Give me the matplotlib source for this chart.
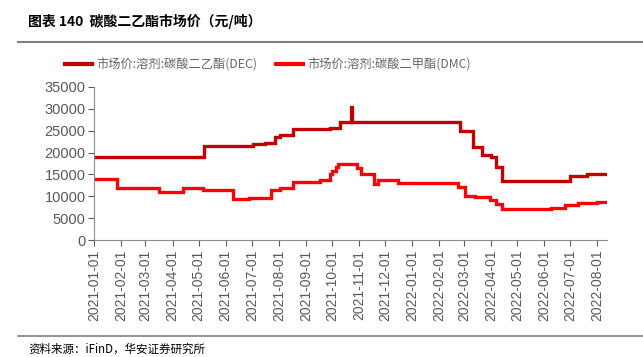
import pandas as pd
import matplotlib
matplotlib.use("Agg")
import matplotlib.pyplot as plt
import matplotlib.dates as mdates
from matplotlib.lines import Line2D

plt.rcParams['font.family'] = ['Liberation Sans', 'Noto Sans CJK SC', 'DejaVu Sans']

# price change points (元/吨), values hold until the next date
dec_dates = ['2021-01-01', '2021-05-07', '2021-07-02', '2021-07-16', '2021-07-27',
             '2021-08-02', '2021-08-17', '2021-09-29', '2021-10-10', '2021-10-22',
             '2021-10-23', '2021-10-24', '2022-02-24', '2022-03-11', '2022-03-22',
             '2022-04-01', '2022-04-07', '2022-04-14', '2022-07-01', '2022-07-20',
             '2022-08-11']
dec_values = [19000, 21500, 22000, 22200, 23500,
              24000, 25300, 25600, 27000, 27000,
              30500, 27000, 25000, 21200, 19500,
              18900, 16600, 13500, 14700, 15100,
              15100]

dmc_dates = ['2021-01-01', '2021-01-27', '2021-03-17', '2021-04-13', '2021-05-06',
             '2021-06-09', '2021-06-28', '2021-07-23', '2021-08-02', '2021-08-17',
             '2021-09-17', '2021-09-29', '2021-10-01', '2021-10-05', '2021-10-08',
             '2021-10-29', '2021-11-03', '2021-11-18', '2021-11-23', '2021-12-15',
             '2022-02-22', '2022-03-02', '2022-03-14', '2022-03-31', '2022-04-07',
             '2022-04-14', '2022-05-17', '2022-06-09', '2022-06-25', '2022-07-10',
             '2022-08-01', '2022-08-11']
dmc_values = [14000, 12000, 11000, 12000, 11500,
              9300, 9700, 11500, 11800, 13300,
              13800, 15000, 15800, 16700, 17500,
              16400, 15000, 12700, 13800, 13000,
              12200, 10100, 9800, 9200, 8200,
              7000, 7200, 7400, 8000, 8400,
              8800, 8800]

dec_label = '市场价:溶剂:碳酸二乙酯(DEC)'
dmc_label = '市场价:溶剂:碳酸二甲酯(DMC)'
title = '图表 140  碳酸二乙酯市场价（元/吨）'
source = '资料来源：iFinD，华安证券研究所'

tick_dates = pd.date_range('2021-01-01', '2022-08-01', freq='MS')

dec_color = '#C00000'
dmc_color = '#FF0000'
gray = '#595959'
cjk = ['Noto Sans CJK SC', 'DejaVu Sans']

fig = plt.figure(figsize=(6.43, 3.57), dpi=100)
ax = fig.add_axes([94 / 643, 1 - 240 / 357, (607 - 94) / 643, (240 - 87) / 357])

ax.plot(pd.to_datetime(dec_dates), dec_values, drawstyle='steps-post',
        color=dec_color, lw=2.4, solid_joinstyle='miter')
ax.plot(pd.to_datetime(dmc_dates), dmc_values, drawstyle='steps-post',
        color=dmc_color, lw=2.4, solid_joinstyle='miter')

ax.set_ylim(0, 35000)
ax.set_yticks(range(0, 35001, 5000))
ax.set_xlim(pd.Timestamp('2021-01-01'), pd.Timestamp('2022-08-12'))
ax.set_xticks(tick_dates)
ax.xaxis.set_major_formatter(mdates.DateFormatter('%Y-%m-%d'))
for lab in ax.get_xticklabels():
    lab.set_rotation(90)

ax.tick_params(axis='x', colors=gray, labelsize=10, length=4, width=0.8, pad=3)
ax.tick_params(axis='y', colors=gray, labelsize=10.5, length=4, width=0.8, pad=2)
for s in ['top', 'right']:
    ax.spines[s].set_visible(False)
for s in ['left', 'bottom']:
    ax.spines[s].set_color('#8c8c8c')
    ax.spines[s].set_linewidth(0.8)

# header / footer
fig.text(28 / 643, 1 - 21 / 357, title, fontsize=10, fontweight='bold',
         family=cjk, va='center', ha='left')
fig.add_artist(Line2D([18 / 643, 1], [1 - 42 / 357] * 2, color='#808080', lw=1.5))
fig.add_artist(Line2D([18 / 643, 1], [1 - 336 / 357] * 2, color='#808080', lw=1.2))
fig.text(28 / 643, 1 - 349 / 357, source, fontsize=8.3,
         family=cjk, va='center', ha='left')

handles = [Line2D([], [], color=dec_color, lw=3), Line2D([], [], color=dmc_color, lw=3)]
fig.legend(handles, [dec_label, dmc_label], loc='center', bbox_to_anchor=(268 / 643, 1 - 65 / 357),
           ncol=2, frameon=False, handlelength=2.2, handletextpad=0.3, columnspacing=1.6,
           prop={'family': cjk, 'size': 8.8}, labelcolor='#666666')

fig.savefig('out.png', dpi=100)
